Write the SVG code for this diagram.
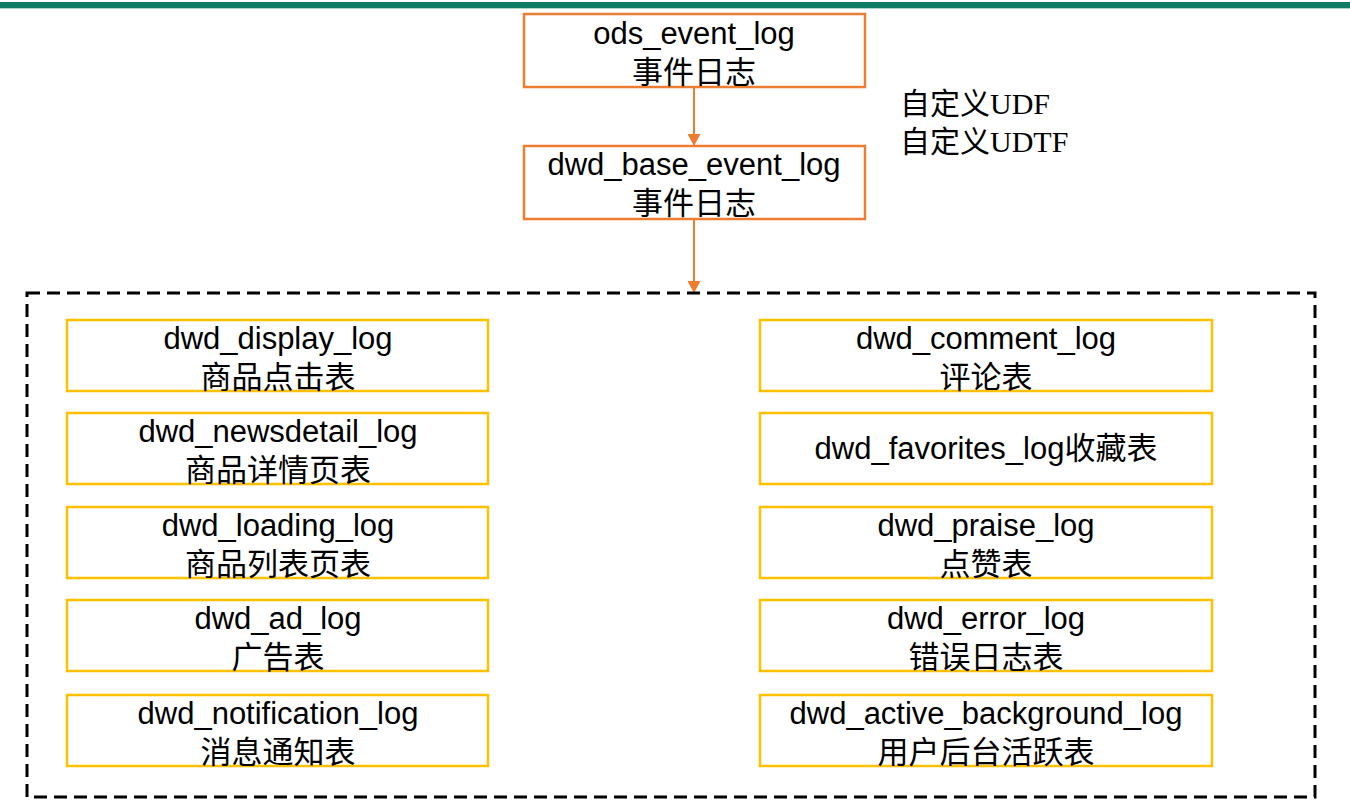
<svg xmlns="http://www.w3.org/2000/svg" width="1350" height="810" viewBox="0 0 1350 810">
<style>
.t{font-family:"Liberation Sans","Noto Sans CJK SC",sans-serif;font-size:31px;fill:#000;text-anchor:middle}
.c{font-family:"Noto Sans CJK SC",sans-serif;font-size:31px}
.s{font-family:"Liberation Serif","Noto Sans CJK SC",serif;font-size:30px;fill:#000}
.o{fill:#fff;stroke:#ed7d31;stroke-width:2.5}
.y{fill:#fff;stroke:#ffc000;stroke-width:2.5}
.e{stroke:#ed7d31;stroke-width:2;fill:none}
</style>
<defs>
<marker id="ah" viewBox="0 0 12 13" refX="12" refY="6.5" markerWidth="12" markerHeight="13" markerUnits="userSpaceOnUse" orient="auto">
<path d="M0,0 L12,6.5 L0,13 Z" fill="#ed7d31"/>
</marker>
</defs>
<rect x="0" y="0" width="1350" height="810" fill="#fff"/>
<rect x="0" y="2" width="1350" height="6" fill="#0f7b63"/>
<rect x="0" y="8" width="1350" height="1" fill="#a9d6c8"/>
<g id="connectors">
<line class="e" x1="694" y1="87" x2="694" y2="146" marker-end="url(#ah)"/>
<line class="e" x1="694" y1="219" x2="694" y2="293" marker-end="url(#ah)"/>
</g>
<g id="ods_event_log">
<rect class="o" x="524" y="14" width="341" height="73"/>
<text class="t"><tspan x="694" y="44">ods_event_log</tspan><tspan class="c" x="694" y="83">事件日志</tspan></text>
</g>
<g id="dwd_base_event_log">
<rect class="o" x="524" y="146" width="341" height="73"/>
<text class="t"><tspan x="694" y="175">dwd_base_event_log</tspan><tspan class="c" x="694" y="214">事件日志</tspan></text>
</g>
<g id="udf_note">
<text class="s"><tspan x="900" y="114">自定义UDF</tspan><tspan x="900" y="152">自定义UDTF</tspan></text>
</g>
<g id="dwd_group">
<rect x="27" y="293" width="1288" height="504" fill="none" stroke="#000" stroke-width="3" stroke-dasharray="13 7"/>
</g>
<g id="dwd_display_log">
<rect class="y" x="67" y="320" width="421" height="71"/>
<text class="t"><tspan x="278" y="349">dwd_display_log</tspan><tspan class="c" x="278" y="388">商品点击表</tspan></text>
</g>
<g id="dwd_newsdetail_log">
<rect class="y" x="67" y="413" width="421" height="71"/>
<text class="t"><tspan x="278" y="442">dwd_newsdetail_log</tspan><tspan class="c" x="278" y="481">商品详情页表</tspan></text>
</g>
<g id="dwd_loading_log">
<rect class="y" x="67" y="507" width="421" height="71"/>
<text class="t"><tspan x="278" y="536">dwd_loading_log</tspan><tspan class="c" x="278" y="575">商品列表页表</tspan></text>
</g>
<g id="dwd_ad_log">
<rect class="y" x="67" y="600" width="421" height="71"/>
<text class="t"><tspan x="278" y="629">dwd_ad_log</tspan><tspan class="c" x="278" y="668">广告表</tspan></text>
</g>
<g id="dwd_notification_log">
<rect class="y" x="67" y="695" width="421" height="71"/>
<text class="t"><tspan x="278" y="724">dwd_notification_log</tspan><tspan class="c" x="278" y="763">消息通知表</tspan></text>
</g>
<g id="dwd_comment_log">
<rect class="y" x="760" y="320" width="452" height="71"/>
<text class="t"><tspan x="986" y="349">dwd_comment_log</tspan><tspan class="c" x="986" y="388">评论表</tspan></text>
</g>
<g id="dwd_favorites_log">
<rect class="y" x="760" y="413" width="452" height="71"/>
<text class="t" x="986" y="459">dwd_favorites_log<tspan class="c">收藏表</tspan></text>
</g>
<g id="dwd_praise_log">
<rect class="y" x="760" y="507" width="452" height="71"/>
<text class="t"><tspan x="986" y="536">dwd_praise_log</tspan><tspan class="c" x="986" y="575">点赞表</tspan></text>
</g>
<g id="dwd_error_log">
<rect class="y" x="760" y="600" width="452" height="71"/>
<text class="t"><tspan x="986" y="629">dwd_error_log</tspan><tspan class="c" x="986" y="668">错误日志表</tspan></text>
</g>
<g id="dwd_active_background_log">
<rect class="y" x="760" y="695" width="452" height="71"/>
<text class="t"><tspan x="986" y="724">dwd_active_background_log</tspan><tspan class="c" x="986" y="763">用户后台活跃表</tspan></text>
</g>
</svg>
